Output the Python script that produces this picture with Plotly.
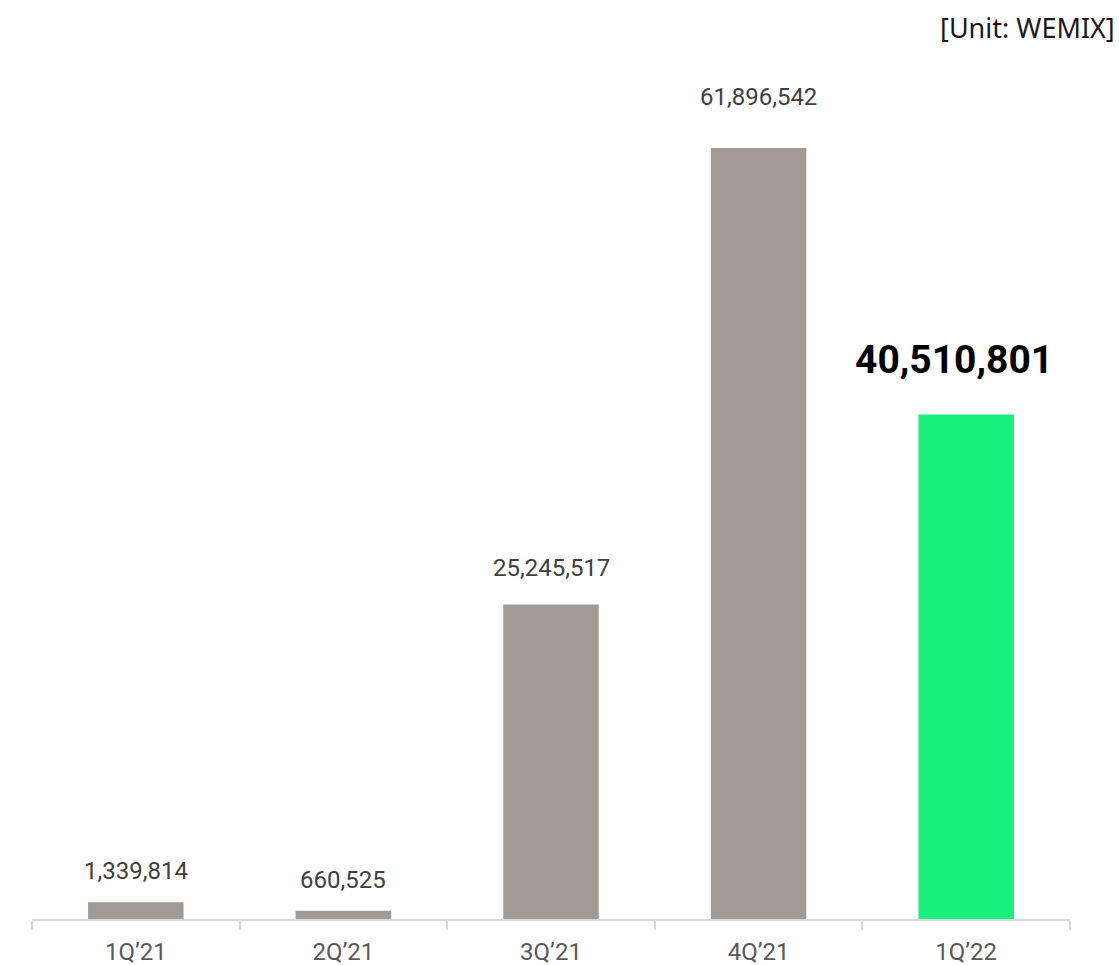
import plotly.graph_objects as go

categories = ["1Q’21", "2Q’21", "3Q’21", "4Q’21", "1Q’22"]
values = [1339814, 660525, 25245517, 61896542, 40510801]
bar_colors = ["#a39a94", "#a39a94", "#a39a94", "#a39a94", "#17f07b"]
label_offsets = [31, 31, 37, 51, 54]
label_xshifts = [0, 0, 0, 0, -12]

fig = go.Figure()
fig.add_trace(go.Bar(
    x=categories, y=values, marker=dict(color=bar_colors, line=dict(width=0)),
    hoverinfo="skip",
))

for i, (c, v) in enumerate(zip(categories, values)):
    last = i == len(values) - 1
    fig.add_annotation(
        x=c, y=v, text=f"{v:,}", showarrow=False, yanchor="middle",
        yshift=label_offsets[i], xshift=label_xshifts[i],
        font=dict(family="Roboto", size=39 if last else 24,
                  color="#000000" if last else "#404040",
                  weight="bold" if last else "normal"),
    )

fig.add_annotation(
    xref="paper", yref="paper", x=1.0, y=1.0, yshift=33, xshift=47,
    xanchor="right", yanchor="middle", text="[Unit: WEMIX]", showarrow=False,
    font=dict(family="Noto Sans", size=27, color="#1a1a1a"),
)

fig.update_layout(
    width=1119, height=965,
    margin=dict(l=32, r=49, t=60, b=46, autoexpand=False),
    paper_bgcolor="white", plot_bgcolor="white",
    bargap=0.54, showlegend=False,
    xaxis=dict(
        automargin=False,
        showline=True, linecolor="#d9d9d9", linewidth=2,
        ticks="outside", tickson="boundaries", ticklen=9, tickcolor="#d9d9d9", tickwidth=2,
        ticklabelstandoff=10,
        tickfont=dict(family="Roboto", size=24, color="#595959"),
        showgrid=False, zeroline=False, fixedrange=True,
    ),
    yaxis=dict(
        automargin=False,
        range=[0, 68.96e6], visible=False, showgrid=False, zeroline=False, fixedrange=True,
    ),
)

fig.write_html("out.html")
